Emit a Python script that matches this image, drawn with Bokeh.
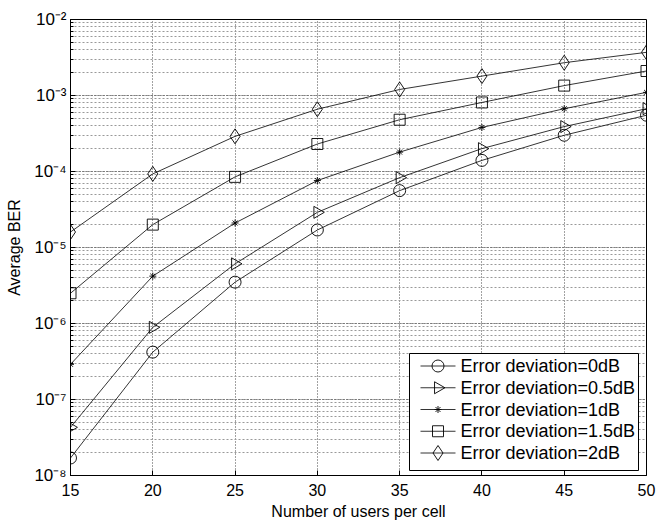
import math
from bokeh.plotting import figure
from bokeh.models import Range1d, FixedTicker, CustomJSTickFormatter
from bokeh.core.properties import value
from bokeh.embed import file_html
from bokeh.resources import INLINE

users = [15, 20, 25, 30, 35, 40, 45, 50]
ber_0dB = [1.7e-8, 4.2e-7, 3.5e-6, 1.7e-5, 5.6e-5, 1.4e-4, 3.0e-4, 5.5e-4]
ber_05dB = [4.3e-8, 8.9e-7, 6.1e-6, 2.9e-5, 8.3e-5, 2.0e-4, 3.9e-4, 6.7e-4]
ber_1dB = [2.9e-7, 4.2e-6, 2.1e-5, 7.6e-5, 1.8e-4, 3.8e-4, 6.7e-4, 1.1e-3]
ber_15dB = [2.5e-6, 2.0e-5, 8.5e-5, 2.3e-4, 4.8e-4, 8.1e-4, 1.35e-3, 2.1e-3]
ber_2dB = [1.6e-5, 9.3e-5, 2.9e-4, 6.6e-4, 1.2e-3, 1.8e-3, 2.7e-3, 3.7e-3]
x_ticks = [15, 20, 25, 30, 35, 40, 45, 50]
series_labels = ["Error deviation=0dB", "Error deviation=0.5dB", "Error deviation=1dB",
                 "Error deviation=1.5dB", "Error deviation=2dB"]

FONT = "Liberation Sans"
W, H = 660, 523
BL, BR, BT, BB = 70, 14, 19, 48
FW, FH = W - BL - BR, H - BT - BB
XMIN, XMAX, YMIN, YMAX = 15, 50, 1e-8, 1e-2


def sx_to_x(sx):
    # screen px from frame left -> data x
    return XMIN + sx / FW * (XMAX - XMIN)


def sy_to_y(sy):
    # screen px from frame bottom -> data y (log axis)
    lo, hi = math.log10(YMIN), math.log10(YMAX)
    return 10 ** (lo + sy / FH * (hi - lo))


p = figure(width=W, height=H, output_backend="svg", toolbar_location=None,
           y_axis_type="log", x_range=Range1d(XMIN, XMAX), y_range=Range1d(YMIN, YMAX),
           min_border_left=BL, min_border_right=BR, min_border_top=BT, min_border_bottom=BB)

p.background_fill_color = "white"
p.border_fill_color = "white"
p.outline_line_color = "black"
p.outline_line_width = 1

p.xaxis.ticker = FixedTicker(ticks=x_ticks)
p.xaxis.axis_label = "Number of users per cell"
p.yaxis.axis_label = "Average BER"
for ax in (p.xaxis[0], p.yaxis[0]):
    ax.axis_label_text_font = FONT
    ax.axis_label_text_font_style = "normal"
    ax.axis_label_text_font_size = "16px"
    ax.axis_label_text_color = "black"
    ax.major_label_text_font = FONT
    ax.major_label_text_font_size = "16px"
    ax.major_label_text_color = "black"
    ax.axis_line_color = "black"
    ax.major_tick_in = 5
    ax.major_tick_out = 0
    ax.minor_tick_in = 3
    ax.minor_tick_out = 0
    ax.major_tick_line_color = "black"
    ax.minor_tick_line_color = "black"
p.xaxis.major_label_standoff = 8
p.xaxis.axis_label_standoff = 4
p.yaxis.major_label_text_font_size = "17px"
p.yaxis.major_label_standoff = 4
p.yaxis.axis_label_standoff = 8
p.yaxis.formatter = CustomJSTickFormatter(code="""
const e = Math.round(Math.log10(tick));
const m = {'-': '\u207B', '0': '\u2070', '1': '\u00B9', '2': '\u00B2', '3': '\u00B3',
           '4': '\u2074', '5': '\u2075', '6': '\u2076', '7': '\u2077', '8': '\u2078', '9': '\u2079'};
return '10' + String(e).split('').map(c => m[c]).join('');
""")

p.xgrid.grid_line_color = "#444444"
p.xgrid.grid_line_dash = "1 2"
p.ygrid.grid_line_color = "#555555"
p.ygrid.grid_line_dash = "1 2"
p.ygrid.minor_grid_line_color = "#999999"
p.ygrid.minor_grid_line_dash = "2 2"

series = [ber_0dB, ber_05dB, ber_1dB, ber_15dB, ber_2dB]
markers = [("circle", 12, 0.0), ("triangle", 12, -math.pi / 2), ("asterisk", 7, 0.0),
           ("square", 11, 0.0), ("diamond", 15, 0.0)]
for vals, (mk, sz, ang) in zip(series, markers):
    p.line(users, vals, line_color="black", line_width=0.8)
    p.scatter(users, vals, marker=mk, size=sz, angle=ang, fill_color=None,
              line_color="black", line_width=0.9)

# legend, drawn by hand (screen px relative to frame left / bottom)
BOX_L, BOX_R, BOX_B, BOX_T = 339, 568, 5, 122
ROW0, ROW_STEP = 109.5, 21.75          # first row centre from frame bottom, row pitch
SEG_L, SEG_R, TXT_X = 350, 385, 390
p.quad(left=[sx_to_x(BOX_L)], right=[sx_to_x(BOX_R)],
       bottom=[sy_to_y(BOX_B)], top=[sy_to_y(BOX_T)],
       fill_color="white", line_color="black", line_width=1)
for i, ((mk, sz, ang), lab) in enumerate(zip(markers, series_labels)):
    yy = sy_to_y(ROW0 - i * ROW_STEP)
    p.line([sx_to_x(SEG_L), sx_to_x(SEG_R)], [yy, yy], line_color="black", line_width=0.8)
    p.scatter([sx_to_x((SEG_L + SEG_R) / 2)], [yy], marker=mk, size=sz, angle=ang,
              fill_color=None, line_color="black", line_width=0.9)
    p.text([sx_to_x(TXT_X)], [yy], text=[lab], text_font=value(FONT), text_font_size="18px",
           text_baseline="middle", text_align="left", text_color="black")

open("out.html", "w").write(file_html(p, INLINE))
